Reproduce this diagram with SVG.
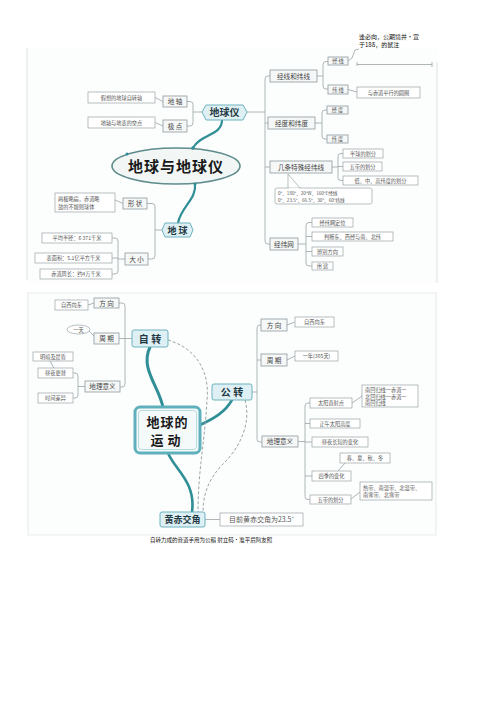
<svg xmlns="http://www.w3.org/2000/svg" width="500" height="709" viewBox="0 0 500 709">
<style>
text{font-family:"Noto Sans CJK SC","Liberation Sans",sans-serif;text-anchor:middle;fill:#444}
.b{fill:#fff;stroke:#9aa3a6;stroke-width:0.7}
.n{fill:#f6f8f8;stroke:#8e9a9e;stroke-width:0.8}
.s{font-size:5.2px;fill:#555}
.m{font-size:6.6px;fill:#444}
.l{fill:none;stroke:#9aa3a6;stroke-width:0.8}
.teal{fill:none;stroke:#2f8e96;stroke-linecap:round}
.dash{fill:none;stroke:#9aa5a5;stroke-width:1;stroke-dasharray:3 2}
.hub{fill:#dff0f4;stroke:#6fb2bf;stroke-width:1}
.ht{font-size:10px;fill:#1f3a44;font-weight:700}
.lt{text-anchor:start}
</style>
<rect width="500" height="709" fill="#fff"/>
<g id="panels">
<rect x="27" y="48" width="410" height="235" fill="#fcfdfd" stroke="none"/>
<path d="M27,48 V280 M437,62 V283" stroke="#dde2e3" stroke-width="1" fill="none"/>
<rect x="28" y="293" width="408" height="242" fill="#fcfdfd" stroke="#e0e5e6" stroke-width="0.8"/>
</g>
<g id="connectors">
<path class="l" d="M202,112 H193 M187,101.5 H190 Q193,101.5 193,104.5 V123 Q193,126 190,126 H187"/>
<path class="l" d="M155,97.5 L163,101.5 M155,122.5 L163,126"/>
<path class="teal" stroke-width="2.2" d="M222,120 C222,136 200,134 193,148"/>
<path class="teal" stroke-width="2.2" d="M195,183 C197,200 181,206 178,223"/>
<path class="l" d="M162,230 H155 M147,203.5 H152 Q155,203.5 155,206.5 V256 Q155,259 152,259 H148"/>
<path class="l" d="M115,200 L123,203.5"/>
<path class="l" d="M125,259 H118 M112,238 H115 Q118,238 118,241 V271 Q118,274 115,274 H112 M112,258 H118"/>
<path class="l" d="M247,112 H265 M270,76 H268 Q265,76 265,79 V241 Q265,244 268,244 H270 M265,123 H268 M265,167 H270"/>
<path class="l" d="M317,76 H323 M328,61.5 H326 Q323,61.5 323,64.5 V86 Q323,89 326,89 H328"/>
<path class="l" d="M348,89.5 L357,92 M348,61 L352,58 L355,50 L359,49"/>
<path class="l" d="M357,62 V66 M357,64.5 H432 M432,62 V67"/>
<path class="l" d="M315,123 H322 M327,110 H325 Q322,110 322,113 V136 Q322,139 325,139 H327"/>
<path class="l" d="M332,167 H338 M343,153.5 H341 Q338,153.5 338,156.5 V177.5 Q338,180.5 341,180.5 H343 M338,166.5 H343"/>
<path class="l" d="M298,244 H306 M312,222.5 H309 Q306,222.5 306,225.5 V263 Q306,266 309,266 H312 M306,236.5 H312 M306,251.5 H312"/>
<path class="l" d="M132,338.5 H125 M119,303 H122 Q125,303 125,306 V384 Q125,387 122,387 H120 M119,338.5 H125"/>
<path class="l" d="M88,305 L94,303 M89,331 L94,336"/>
<path class="l" d="M85,386.5 H78 M73,373 H75 Q78,373 78,376 V395 Q78,398 75,398 H73 M50,361 L54,368"/>
<path class="teal" stroke-width="3" d="M150,347 C140,368 158,385 163,407"/>
<path class="teal" stroke-width="2.6" d="M200,425 C215,418 225,412 232,400"/>
<path class="teal" stroke-width="2.6" d="M168,453 C175,470 196,482 192,512"/>
<path class="dash" d="M168,340 C195,348 210,370 207,400 C205,440 198,470 198,512"/>
<path class="dash" d="M245,400 C252,425 238,450 222,465 C208,480 203,495 203,512"/>
<path class="l" d="M252,392 H257 M261,325 H260 Q257,325 257,328 V439 Q257,442 260,442 H262 M257,360 H261"/>
<path class="l" d="M287,325 L295,322 M287,360 L295,356"/>
<path class="l" d="M298,441.5 H305 M310,403 H308 Q305,403 305,406 V496.5 Q305,499.5 308,499.5 H310 M305,423.5 H310 M305,442 H312 M305,476 H312"/>
<path class="l" d="M352,403 L362,396 M345,463 L338,471 M351,499 L360,492"/>
<path class="l" d="M205,519.5 H220"/>
</g>
<g id="n-diqiuyi"><polygon class="hub" points="202,112 206,105 243,105 247,112 243,120 206,120"/><text x="224.5" y="116" class="ht">地球仪</text></g>
<g id="n-dizhou"><rect class="n" x="163" y="96" width="24" height="11"/><text x="175" y="104" class="m">地 轴</text></g>
<g id="n-jidian"><rect class="n" x="163" y="120" width="24" height="12"/><text x="175" y="128.5" class="m">极 点</text></g>
<g id="l-zizhuanzhou"><rect class="b" x="88" y="92" width="67" height="11"/><text x="121.5" y="99.6" class="s">假想的地球自转轴</text></g>
<g id="l-jiaodian"><rect class="b" x="88" y="117" width="67" height="11"/><text x="121.5" y="124.6" class="s">地轴与地表的交点</text></g>
<g id="n-center1"><ellipse cx="176" cy="166" rx="64" ry="18" fill="#f2f6f5" stroke="#5e8c8c" stroke-width="1.6"/><circle cx="193" cy="148" r="1.8" fill="#2f8e96"/><circle cx="127" cy="154" r="1.5" fill="#2f8e96"/><circle cx="195" cy="184" r="1.5" fill="#2f8e96"/><text x="176" y="171.5" style="font-size:15px;fill:#1a1a1a;font-weight:700;letter-spacing:1px">地球与地球仪</text></g>
<g id="n-diqiu"><polygon class="hub" points="162,230 165,223 190,223 193,230 190,237 165,237"/><text x="177.5" y="233.5" class="ht" style="font-size:9px">地  球</text></g>
<g id="n-xingzhuang"><rect class="n" x="123" y="198" width="24" height="11"/><text x="135" y="206" class="m">形 状</text></g>
<g id="l-xingzhuang"><rect class="b" x="55" y="193" width="60" height="19"/><text x="58" y="201" class="s lt">两极略扁，赤道略</text><text x="58" y="208.5" class="s lt">鼓的不规则球体</text></g>
<g id="n-daxiao"><rect class="n" x="125" y="253" width="23" height="12"/><text x="136.5" y="261.5" class="m">大 小</text></g>
<g id="l-banjing"><rect class="b" x="42" y="233" width="70" height="10"/><text x="77" y="240" class="s">平均半径：6 371千米</text></g>
<g id="l-mianji"><rect class="b" x="35" y="253" width="77" height="10"/><text x="73.5" y="260" class="s">表面积：5.1亿平方千米</text></g>
<g id="l-zhouchang"><rect class="b" x="40" y="269" width="72" height="10"/><text x="76" y="276" class="s">赤道周长：约4万千米</text></g>
<g id="n-jingwei"><rect class="n" x="270" y="70" width="47" height="12"/><text x="293.5" y="78.5" class="m">经线和纬线</text></g>
<g id="n-jingxian"><rect class="n" x="328" y="57" width="20" height="8"/><text x="338" y="63.3" class="s">经 线</text></g>
<g id="n-weixian"><rect class="n" x="328" y="85" width="20" height="9"/><text x="338" y="91.6" class="s">纬 线</text></g>
<g id="l-weixian"><rect class="b" x="357" y="87" width="63" height="11"/><text x="388.5" y="94.6" class="s">与赤道平行的圆圈</text></g>
<g id="overlay"><text x="359" y="39" class="lt" style="font-size:6px;fill:#111">逢必向，公期境并•宣</text><text x="359" y="47" class="lt" style="font-size:6px;fill:#111">于18δ，的鼠注</text></g>
<g id="n-jingdu"><rect class="n" x="268" y="117" width="47" height="12"/><text x="291.5" y="125.5" class="m">经度和纬度</text></g>
<g id="n-jd"><rect class="n" x="327" y="106" width="21" height="8"/><text x="337.5" y="112.2" class="s">经 度</text></g>
<g id="n-wd"><rect class="n" x="327" y="135" width="21" height="8"/><text x="337.5" y="141.2" class="s">纬 度</text></g>
<g id="n-teshu"><rect class="n" x="270" y="161" width="62" height="12"/><text x="301" y="169.5" class="m">几条特殊经纬线</text></g>
<g id="l-banqiu"><rect class="b" x="343" y="149" width="40" height="9"/><text x="363" y="155.7" class="s">半球的划分</text></g>
<g id="l-wudai"><rect class="b" x="343" y="162" width="39" height="9"/><text x="362.5" y="168.7" class="s">五带的划分</text></g>
<g id="l-weidu"><rect class="b" x="343" y="176" width="75" height="9"/><text x="380.5" y="182.7" class="s">低、中、高纬度的划分</text></g>
<g id="l-teshu"><path d="M288,188 L288,174 L300,188" fill="#fff" stroke="#9aa3a6" stroke-width="0.7"/><rect class="b" x="275" y="188" width="97" height="16" rx="2"/><path d="M289,188.4 H299" stroke="#fff" stroke-width="1"/><text x="278" y="195" class="lt" style="font-size:4.6px;fill:#555">0°、180°、20°W、160°E经线</text><text x="278" y="201.5" class="lt" style="font-size:4.6px;fill:#555">0°、23.5°、66.5°、30°、60°纬线</text></g>
<g id="n-jingweiwang"><rect class="n" x="270" y="238" width="28" height="12"/><text x="284" y="246.5" class="m">经纬网</text></g>
<g id="l-dingwei"><rect class="b" x="312" y="218" width="41" height="9"/><text x="332.5" y="224.7" class="s">经纬网定位</text></g>
<g id="l-panduan"><rect class="b" x="312" y="232" width="81" height="9"/><text x="352.5" y="238.7" class="s">判断东、西经与南、北纬</text></g>
<g id="l-bianbie"><rect class="b" x="312" y="247" width="31" height="9"/><text x="327.5" y="253.7" class="s">辨别方向</text></g>
<g id="l-yongtu"><rect class="b" x="312" y="262" width="21" height="8"/><text x="322.5" y="268.2" class="s">用 途</text></g>
<g id="n-zizhuan"><rect class="hub" x="132" y="330" width="36" height="17" rx="2"/><text x="150" y="342.5" class="ht">自 转</text></g>
<g id="n-zz-fx"><rect class="n" x="94" y="298" width="25" height="10"/><text x="106.5" y="305.5" class="m">方 向</text></g>
<g id="l-zz-fx"><rect class="b" x="55" y="300" width="33" height="10"/><text x="71.5" y="307" class="s">自西向东</text></g>
<g id="n-zz-zq"><rect class="n" x="94" y="333" width="25" height="11"/><text x="106.5" y="341" class="m">周 期</text></g>
<g id="l-zz-zq"><ellipse cx="78.5" cy="329.5" rx="11.5" ry="4.5" fill="#fff" stroke="#9aa3a6" stroke-width="0.7"/><text x="78.5" y="331.5" class="s">一天</text></g>
<g id="n-zz-yy"><rect class="n" x="85" y="381" width="35" height="11"/><text x="102.5" y="389" class="m">地理意义</text></g>
<g id="l-zhouye"><rect class="b" x="38" y="368" width="35" height="10"/><text x="55.5" y="375" class="s">昼夜更替</text></g>
<g id="l-shijian"><rect class="b" x="38" y="393" width="35" height="10"/><text x="55.5" y="400" class="s">时间差异</text></g>
<g id="l-chenhun"><rect class="b" x="33" y="352" width="40" height="9"/><text x="53" y="358.7" class="s">明暗及晨昏</text></g>
<g id="n-center2"><rect x="135" y="407" width="65" height="46" rx="5" fill="#f4f9fa" stroke="#5fb0bd" stroke-width="3"/><rect x="138.5" y="410.5" width="58" height="39" rx="3" fill="none" stroke="#a6d3db" stroke-width="0.8"/><text x="167.5" y="427" style="font-size:13px;fill:#1a1a1a;font-weight:700;letter-spacing:1px">地球的</text><text x="167.5" y="445" style="font-size:13px;fill:#1a1a1a;font-weight:700;letter-spacing:4px">运动</text></g>
<g id="n-gongzhuan"><rect class="hub" x="212" y="384" width="40" height="16" rx="2"/><text x="232" y="396" class="ht">公 转</text></g>
<g id="n-gz-fx"><rect class="n" x="261" y="319" width="26" height="12"/><text x="274" y="327.5" class="m">方 向</text></g>
<g id="l-gz-fx"><rect class="b" x="295" y="317" width="39" height="10"/><text x="314.5" y="324" class="s">自西向东</text></g>
<g id="n-gz-zq"><rect class="n" x="261" y="354" width="26" height="12"/><text x="274" y="362.5" class="m">周 期</text></g>
<g id="l-gz-zq"><rect class="b" x="295" y="351" width="43" height="10"/><text x="316.5" y="358" class="s">一年(365天)</text></g>
<g id="n-gz-yy"><rect class="n" x="262" y="436" width="36" height="11"/><text x="280" y="444" class="m">地理意义</text></g>
<g id="l-zhishe"><rect class="b" x="310" y="398" width="42" height="10"/><text x="331" y="405" class="s">太阳直射点</text></g>
<g id="l-zhishe2"><rect class="b" x="362" y="385" width="56" height="22"/><text x="365" y="392" class="s lt">南回归线一赤道一</text><text x="365" y="398.5" class="s lt">北回归线一赤道一</text><text x="365" y="405" class="s lt">南回归线</text></g>
<g id="l-gaodu"><rect class="b" x="310" y="419" width="50" height="9"/><text x="335" y="425.7" class="s">正午太阳高度</text></g>
<g id="l-changduan"><rect class="b" x="312" y="437" width="56" height="10"/><text x="340" y="444" class="s">昼夜长短的变化</text></g>
<g id="l-siji"><rect class="b" x="312" y="471" width="39" height="10"/><text x="331.5" y="478" class="s">四季的变化</text></g>
<g id="l-siji2"><rect class="b" x="340" y="453" width="50" height="10"/><text x="365" y="460" class="s">春、夏、秋、冬</text></g>
<g id="l-wudai2"><rect class="b" x="310" y="495" width="41" height="9"/><text x="330.5" y="501.7" class="s">五带的划分</text></g>
<g id="l-wudai3"><rect class="b" x="360" y="482" width="72" height="18"/><text x="363" y="489.5" class="s lt">热带、南温带、北温带、</text><text x="363" y="496.5" class="s lt">南寒带、北寒带</text></g>
<g id="n-huangchi"><rect class="hub" x="160" y="512" width="45" height="15" rx="2"/><text x="182.5" y="523" class="ht" style="font-size:9px">黄赤交角</text></g>
<g id="l-huangchi"><rect class="b" x="220" y="513" width="83" height="13"/><text x="261.5" y="522" style="font-size:7px;fill:#555">目前黄赤交角为23.5°</text></g>
<g id="caption"><text x="150" y="541.5" class="lt" style="font-size:5.5px;fill:#111">自转力成的音道手用为公稻  射立码•准平后阿友照</text></g>
</svg>
